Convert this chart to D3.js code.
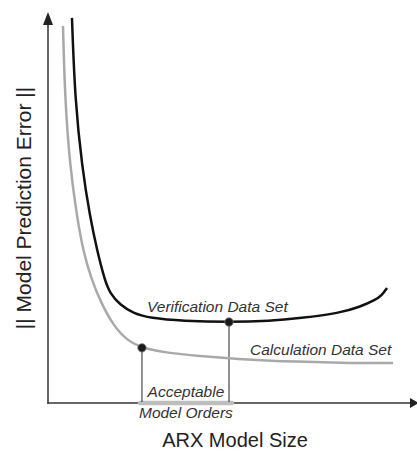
<!DOCTYPE html>
<html>
<head>
<meta charset="utf-8">
<script src="https://cdn.jsdelivr.net/npm/d3@7"></script>
<style>
  html, body { margin: 0; padding: 0; background: #fff; }
  svg { display: block; font-family: "Liberation Sans", Arial, sans-serif; }
</style>
</head>
<body>
<svg id="chart" width="417" height="452"></svg>
<script>
// Model size (x) vs. prediction error (y), arbitrary units
const verificationX = [3.31, 3.73, 4.70, 5.80, 6.77, 7.87, 8.56, 9.94, 11.74, 14.09, 18.65, 25.0, 30.66, 34.81, 40.33, 43.09, 45.17, 46.13, 46.82];
const verificationY = [9.85, 7.75, 6.04, 4.76, 3.91, 3.12, 2.81, 2.51, 2.30, 2.17, 2.10, 2.07, 2.10, 2.17, 2.30, 2.46, 2.63, 2.76, 2.94];
const calculationX = [2.07, 2.35, 3.04, 4.01, 4.83, 5.94, 7.18, 8.98, 10.91, 12.98, 16.44, 20.99, 25.55, 34.81, 41.71, 47.65];
const calculationY = [9.64, 7.75, 6.04, 4.76, 3.91, 3.20, 2.62, 1.99, 1.60, 1.41, 1.28, 1.20, 1.13, 1.05, 1.02, 1.02];
const markerX = [12.98, 25.0];          // chosen model orders
const markerY = [1.41, 2.07];
const acceptableRange = [12.7, 25.4];
const seriesLabels = ["Verification Data Set", "Calculation Data Set"];
const rangeLabels = ["Acceptable", "Model Orders"];
const xTitle = "ARX Model Size";
const yTitle = "|| Model Prediction Error ||";

const svg = d3.select("#chart");
const x = d3.scaleLinear().domain([0, 50]).range([48, 410]);
const y = d3.scaleLinear().domain([0, 10]).range([403, 12]);

const axisColor = "#333";
// axes
svg.append("line").attr("x1", x(0)).attr("x2", x(0)).attr("y1", y(0) + 0.75).attr("y2", 24)
  .attr("stroke", axisColor).attr("stroke-width", 1.5);
svg.append("path").attr("d", `M${x(0)},12 L${x(0) - 5},25 L${x(0) + 5},25 Z`).attr("fill", "#222");
svg.append("line").attr("x1", x(0) - 0.75).attr("x2", 411).attr("y1", y(0)).attr("y2", y(0))
  .attr("stroke", axisColor).attr("stroke-width", 1.5);
svg.append("path").attr("d", `M419,${y(0)} L410,${y(0) - 5} L410,${y(0) + 5} Z`).attr("fill", "#222");

// acceptable range bar
svg.append("line")
  .attr("x1", x(acceptableRange[0])).attr("x2", x(acceptableRange[1]))
  .attr("y1", y(0)).attr("y2", y(0))
  .attr("stroke", "#bdbdbd").attr("stroke-width", 4.5).attr("stroke-linecap", "round");

// drop lines
markerX.forEach((mx, i) => {
  svg.append("line").attr("x1", x(mx)).attr("x2", x(mx)).attr("y1", y(markerY[i])).attr("y2", y(0) - 1)
    .attr("stroke", "#222").attr("stroke-width", 1);
});

const line = d3.line().x(d => x(d[0])).y(d => y(d[1])).curve(d3.curveBasis);
svg.append("path").datum(d3.zip(calculationX, calculationY)).attr("d", line)
  .attr("fill", "none").attr("stroke", "#a9a9a9").attr("stroke-width", 2.5);
svg.append("path").datum(d3.zip(verificationX, verificationY)).attr("d", line)
  .attr("fill", "none").attr("stroke", "#111").attr("stroke-width", 2.5);

// markers
markerX.forEach((mx, i) => {
  svg.append("circle").attr("cx", x(mx)).attr("cy", y(markerY[i])).attr("r", 4.2)
    .attr("fill", "#1a1a1a").attr("stroke", "#777").attr("stroke-width", 0.8);
});

// annotations
const ann = { "font-size": "15.5px", "font-style": "italic", "fill": "#333" };
function txt(s, xx, yy, attrs, anchor) {
  const t = svg.append("text").attr("x", xx).attr("y", yy).attr("text-anchor", anchor || "start").text(s);
  Object.entries(attrs).forEach(([k, v]) => t.style(k, v));
  return t;
}
txt(seriesLabels[0], 147, 312, ann);
txt(seriesLabels[1], 250, 355, ann);
const mid = x((acceptableRange[0] + acceptableRange[1]) / 2);
txt(rangeLabels[0], mid, 397, ann, "middle");
txt(rangeLabels[1], mid, 418, ann, "middle");

txt(xTitle, 235, 447, { "font-size": "20px", "fill": "#222" }, "middle");
svg.append("text").attr("transform", "translate(31,208) rotate(-90)")
  .attr("text-anchor", "middle").style("font-size", "21px").style("fill", "#222").text(yTitle);
</script>
</body>
</html>
